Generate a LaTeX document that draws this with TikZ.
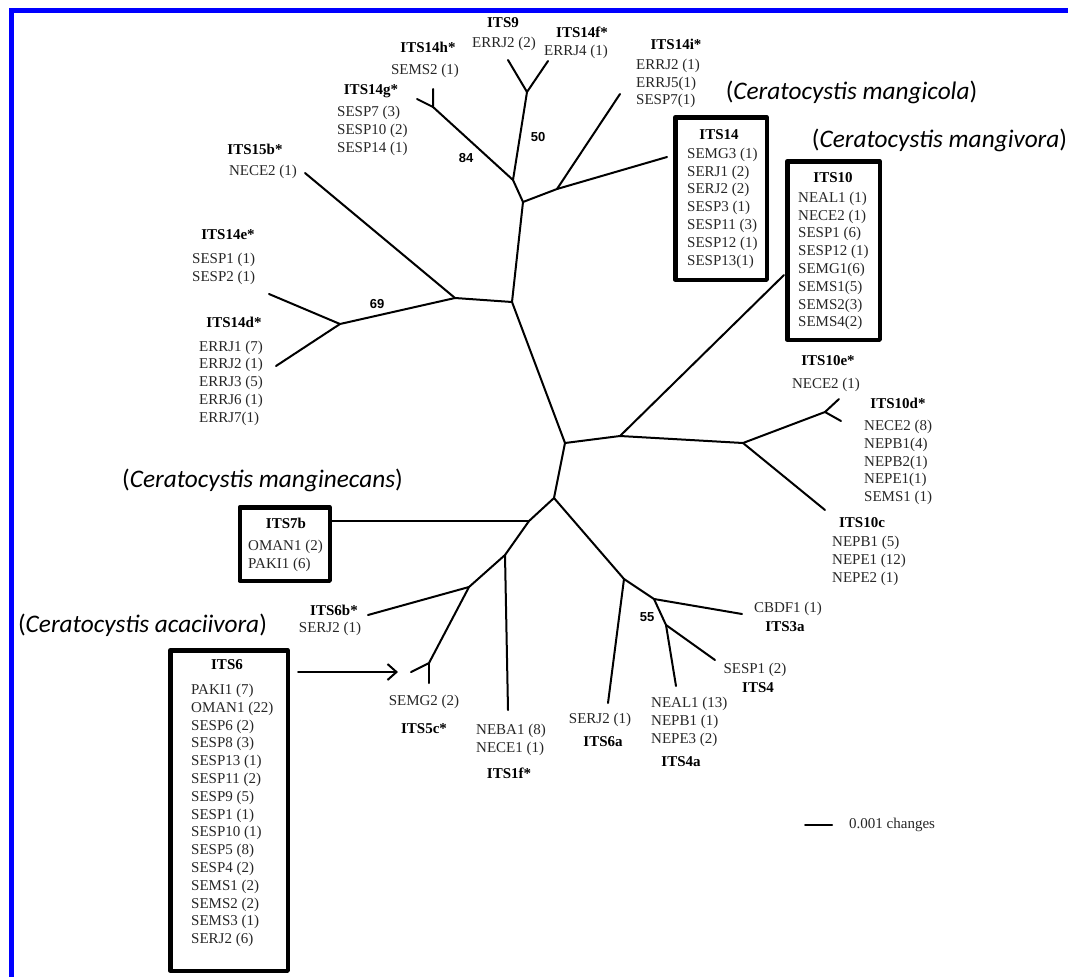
\documentclass[tikz,border=0pt]{standalone}
\usepackage{fontspec}
\setmainfont{Liberation Serif}
\newfontfamily\bootfont{Liberation Sans}
\newfontfamily\spfont{Carlito}
\usetikzlibrary{arrows.meta}

\begin{document}
\begin{tikzpicture}[
				x=1pt, y=-1pt,
				line cap=round,
				line join=round,
				branch/.style={line width=2pt},
				lst/.style={font=\fontsize{15}{17.8}\selectfont, text=black!85, inner sep=0pt, align=left},
				hd/.style={font=\fontsize{15}{17.8}\selectfont\bfseries, inner sep=0pt},
				boot/.style={font=\bootfont\bfseries\fontsize{13}{13}\selectfont, inner sep=0pt},
				sp/.style={font=\spfont\fontsize{25.3}{25.3}\selectfont, inner sep=0pt},
				isobox/.style={draw, line width=4.5pt, inner sep=0pt},
				arr/.style={line width=2pt, -{Straight Barb[length=9pt,width=16pt]}}
				]
				\useasboundingbox (0,0) rectangle (1068,977);
				
				% Frame
				\fill[blue] (9,8) rectangle (1068,13);
				\fill[blue] (9,8) rectangle (14,977);
				
				% Boxes
				\node[isobox, minimum width=91.5pt, minimum height=162.5pt] (b14) at (721,198.5) {};
				\node[isobox, minimum width=92.5pt, minimum height=178.5pt] (b10) at (833.5,250.5) {};
				\node[isobox, minimum width=90pt, minimum height=73.5pt] (b7) at (284.75,544) {};
				\node[isobox, minimum width=117.5pt, minimum height=320.5pt] (b6) at (229,810.5) {};
				
				% Branch points
				\coordinate (r) at (512,302);
				\coordinate (n1) at (523,202);
				\coordinate (n2) at (513,180);
				\coordinate (n3) at (527,92);
				\coordinate (n4) at (433,107);
				\coordinate (n5) at (557,189);
				\coordinate (n6) at (455,298);
				\coordinate (n7) at (340,324);
				\coordinate (n8) at (565,443);
				\coordinate (n9) at (620,436);
				\coordinate (n10) at (743,443);
				\coordinate (n11) at (825,412);
				\coordinate (n12) at (554,498);
				\coordinate (n13) at (529,521);
				\coordinate (n14) at (505,555);
				\coordinate (n15) at (469,587);
				\coordinate (n16) at (429,663);
				\coordinate (n17) at (624,579);
				\coordinate (n18) at (654,599);
				\coordinate (n19) at (666,625);
				
				% Tips
				\coordinate (l9) at (508,60);
				\coordinate (l14f) at (548,61);
				\coordinate (l14h) at (433,89);
				\coordinate (l14g) at (417,99);
				\coordinate (l14i) at (620,94);
				\coordinate (e14) at (667,157);
				\coordinate (l15b) at (305,173);
				\coordinate (l14e) at (269,294);
				\coordinate (l14d) at (276,366);
				\coordinate (e10) at (784,275);
				\coordinate (l10e) at (839,399);
				\coordinate (l10d) at (841,421);
				\coordinate (l10c) at (825,510);
				\coordinate (l1f) at (508,710);
				\coordinate (l6b) at (368,615);
				\coordinate (l5a) at (411,672);
				\coordinate (l5b) at (429,683);
				\coordinate (l6a) at (608,703);
				\coordinate (l3a) at (742,614);
				\coordinate (l4) at (715,660);
				\coordinate (l4a) at (676,686);
				\coordinate (a6) at (398,672);
				
				% Tree
				\draw[branch] (l9) -- (n3) -- (l14f);
				\draw[branch] (n3) -- (n2) -- (n4) -- (l14h);
				\draw[branch] (n4) -- (l14g);
				\draw[branch] (n2) -- (n1) -- (n5) -- (l14i);
				\draw[branch] (n5) -- (e14);
				\draw[branch] (n1) -- (r) -- (n6) -- (l15b);
				\draw[branch] (n6) -- (n7) -- (l14e);
				\draw[branch] (n7) -- (l14d);
				\draw[branch] (r) -- (n8) -- (n9) -- (e10);
				\draw[branch] (n9) -- (n10) -- (n11) -- (l10e);
				\draw[branch] (n11) -- (l10d);
				\draw[branch] (n10) -- (l10c);
				\draw[branch] (n8) -- (n12) -- (n13) -- (n14) -- (n15) -- (n16) -- (l5a);
				\draw[branch] (n16) -- (l5b);
				\draw[branch] (n15) -- (l6b);
				\draw[branch] (n14) -- (l1f);
				\draw[branch] (n13) -- (b7.east |- n13);
				\draw[branch] (n12) -- (n17) -- (l6a);
				\draw[branch] (n17) -- (n18) -- (l3a);
				\draw[branch] (n18) -- (n19) -- (l4);
				\draw[branch] (n19) -- (l4a);
				\draw[arr] ([xshift=8pt]b6.east |- a6) -- (a6);
				
				% Bootstrap values
				\node[boot] (bs84) at (466,158) {84};
				\node[boot] (bs50) at (538,137) {50};
				\node[boot] (bs69) at (377,304) {69};
				\node[boot] (bs55) at (647,617) {55};
				
				% Haplotype names
				\node[hd] (h9) at (503,23) {ITS9};
				\node[hd] (h14f) at (582,32) {ITS14f*};
				\node[hd] (h14h) at (428,47) {ITS14h*};
				\node[hd] (h14i) at (676,44) {ITS14i*};
				\node[hd] (h14g) at (371,91) {ITS14g*};
				\node[hd] (h15b) at (255,149) {ITS15b*};
				\node[hd] (h14e) at (228,235) {ITS14e*};
				\node[hd] (h14d) at (234,322) {ITS14d*};
				\node[hd] (h14) at (719,135) {ITS14};
				\node[hd] (h10) at (833,178) {ITS10};
				\node[hd] (h10e) at (828,361) {ITS10e*};
				\node[hd] (h10d) at (898,403) {ITS10d*};
				\node[hd] (h10c) at (862,523) {ITS10c};
				\node[hd] (h7) at (286,523) {ITS7b};
				\node[hd] (h6b) at (334,610) {ITS6b*};
				\node[hd] (h6) at (227,665) {ITS6};
				\node[hd] (h3a) at (785,627) {ITS3a};
				\node[hd] (h4) at (758,688) {ITS4};
				\node[hd] (h5c) at (424,729) {ITS5c*};
				\node[hd] (h6a) at (603,742) {ITS6a};
				\node[hd] (h4a) at (681,762) {ITS4a};
				\node[hd] (h1f) at (509,773) {ITS1f*};
				
				% Isolates
				\node[lst] (t9) at (504,44) {ERRJ2 (2)};
				\node[lst] (t14f) at (576,52) {ERRJ4 (1)};
				\node[lst] (t14h) at (425,71) {SEMS2 (1)};
				\node[lst, anchor=west] (t14i) at (636,83.5) {ERRJ2 (1)\\ERRJ5(1)\\SESP7(1)};
				\node[lst, anchor=west] (t14g) at (337,131) {SESP7 (3)\\SESP10 (2)\\SESP14 (1)};
				\node[lst] (t15b) at (263,172) {NECE2 (1)};
				\node[lst, anchor=west] (t14e) at (192,269) {SESP1 (1)\\SESP2 (1)};
				\node[lst, anchor=west] (t14d) at (199,383) {ERRJ1 (7)\\ERRJ2 (1)\\ERRJ3 (5)\\ERRJ6 (1)\\ERRJ7(1)};
				\node[lst, anchor=west] (t14) at (687,208) {SEMG3 (1)\\SERJ1 (2)\\SERJ2 (2)\\SESP3 (1)\\SESP11 (3)\\SESP12 (1)\\SESP13(1)};
				\node[lst, anchor=west] (t10) at (798,261) {NEAL1 (1)\\NECE2 (1)\\SESP1 (6)\\SESP12 (1)\\SEMG1(6)\\SEMS1(5)\\SEMS2(3)\\SEMS4(2)};
				\node[lst] (t10e) at (826,385) {NECE2 (1)};
				\node[lst, anchor=west] (t10d) at (864,462.5) {NECE2 (8)\\NEPB1(4)\\NEPB2(1)\\NEPE1(1)\\SEMS1 (1)};
				\node[lst, anchor=west] (t10c) at (832,561) {NEPB1 (5)\\NEPE1 (12)\\NEPE2 (1)};
				\node[lst, anchor=west] (t7) at (248,556) {OMAN1 (2)\\PAKI1 (6)};
				\node[lst] (t6b) at (330,629) {SERJ2 (1)};
				\node[lst, anchor=west] (t6) at (191,815.5) {PAKI1 (7)\\OMAN1 (22)\\SESP6 (2)\\SESP8 (3)\\SESP13 (1)\\SESP11 (2)\\SESP9 (5)\\SESP1 (1)\\SESP10 (1)\\SESP5 (8)\\SESP4 (2)\\SEMS1 (2)\\SEMS2 (2)\\SEMS3 (1)\\SERJ2 (6)};
				\node[lst] (t3a) at (788,609) {CBDF1 (1)};
				\node[lst] (t4) at (755,670) {SESP1 (2)};
				\node[lst] (t5c) at (424,702) {SEMG2 (2)};
				\node[lst, anchor=west] (t4a) at (651,722) {NEAL1 (13)\\NEPB1 (1)\\NEPE3 (2)};
				\node[lst] (t6a) at (600,720) {SERJ2 (1)};
				\node[lst, anchor=west] (t1f) at (476,740) {NEBA1 (8)\\NECE1 (1)};
				
				% Species
				\node[sp] (sp14) at (851.5,92) {(\textit{Ceratocystis mangicola})};
				\node[sp] (sp10) at (939.5,140) {(\textit{Ceratocystis mangivora})};
				\node[sp] (sp7) at (262.5,480) {(\textit{Ceratocystis manginecans})};
				\node[sp] (sp6) at (142.5,625) {(\textit{Ceratocystis acaciivora})};
				
				% Scale bar
				\coordinate (s1) at (805,825);
				\coordinate (s2) at (832,825);
				\draw[branch] (s1) -- (s2);
				\node[lst, anchor=west] (sbl) at (849,825) {0.001 changes};
			\end{tikzpicture}
\end{document}
